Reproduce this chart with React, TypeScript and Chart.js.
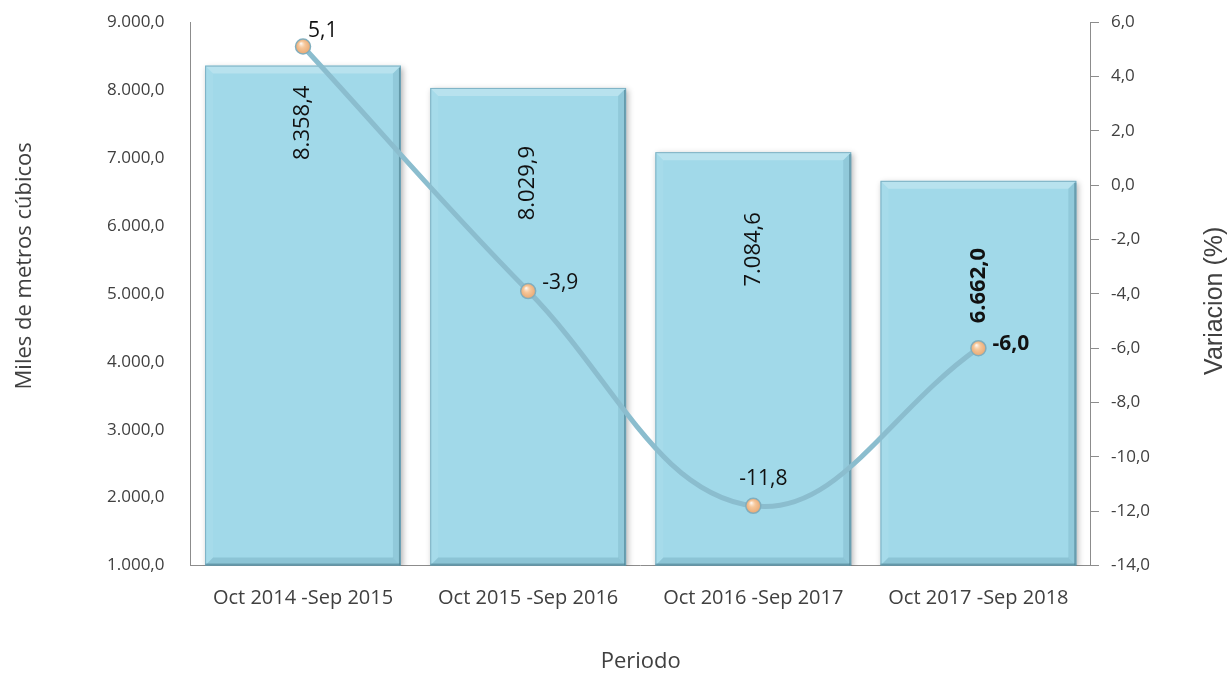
import React, { useEffect, useRef } from "react";
import { Chart, registerables } from "chart.js";

Chart.register(...registerables);

const categories = [
  "Oct 2014 -Sep 2015",
  "Oct 2015 -Sep 2016",
  "Oct 2016 -Sep 2017",
  "Oct 2017 -Sep 2018",
];
const volumes = [8358.4, 8029.9, 7084.6, 6662.0];
const variations = [5.1, -3.9, -11.8, -6.0];
const leftAxisRange = [1000, 9000, 1000];
const rightAxisRange = [-14, 6, 2];
const leftTitle = "Miles de metros cúbicos";
const rightTitle = "Variacion (%)";
const bottomTitle = "Periodo";

const FONT = "'Open Sans', sans-serif";
const TEXT = "#404040";

function fmt(v: number, dec = 1): string {
  const s = Math.abs(v).toFixed(dec);
  const parts = s.split(".");
  const i = parts[0].replace(/\B(?=(\d{3})+(?!\d))/g, ".");
  return (v < 0 ? "-" : "") + i + (parts[1] ? "," + parts[1] : "");
}

// label style settings (not data)
const barLabelOffsets = [20, 58, 60, 67];
const barLabelBold = [false, false, false, true];
const lineLabelStyle = [
  { dx: 5, dy: -15, align: "left", bold: false },
  { dx: 14, dy: -8, align: "left", bold: false },
  { dx: 10, dy: -27, align: "center", bold: false },
  { dx: 14, dy: -4, align: "left", bold: true },
];

const trimVerticalPadding = (scale: any) => {
  scale.paddingTop = 0;
  scale.paddingBottom = 0;
};

const decorPlugin = {
  id: "decor",
  beforeDatasetDraw(chart: any, args: any) {
    if (args.index !== 0) return;
    const ctx = chart.ctx;
    ctx.save();
    ctx.shadowColor = "rgba(0,0,0,0.3)";
    ctx.shadowBlur = 6;
    ctx.shadowOffsetX = 2;
    ctx.shadowOffsetY = 2;
  },
  afterDatasetDraw(chart: any, args: any) {
    if (args.index !== 0) return;
    const ctx = chart.ctx;
    ctx.restore();
    const meta = chart.getDatasetMeta(0);
    meta.data.forEach((bar: any) => {
      const l = bar.x - bar.width / 2;
      const r = bar.x + bar.width / 2;
      const t = bar.y;
      const b = Math.min(bar.base, chart.chartArea.bottom);
      const e = 8;
      ctx.save();
      // top bevel (light)
      ctx.fillStyle = "rgba(255,255,255,0.25)";
      ctx.beginPath();
      ctx.moveTo(l, t); ctx.lineTo(r, t); ctx.lineTo(r - e, t + e); ctx.lineTo(l + e, t + e); ctx.closePath();
      ctx.fill();
      // left bevel
      ctx.fillStyle = "rgba(255,255,255,0.06)";
      ctx.beginPath();
      ctx.moveTo(l, t); ctx.lineTo(l + e, t + e); ctx.lineTo(l + e, b - e); ctx.lineTo(l, b); ctx.closePath();
      ctx.fill();
      // right bevel (dark)
      ctx.fillStyle = "rgba(30,90,115,0.12)";
      ctx.beginPath();
      ctx.moveTo(r, t); ctx.lineTo(r - e, t + e); ctx.lineTo(r - e, b - e); ctx.lineTo(r, b); ctx.closePath();
      ctx.fill();
      // bottom bevel (dark)
      ctx.fillStyle = "rgba(30,90,115,0.16)";
      ctx.beginPath();
      ctx.moveTo(l, b); ctx.lineTo(r, b); ctx.lineTo(r - e, b - e); ctx.lineTo(l + e, b - e); ctx.closePath();
      ctx.fill();
      // dark right / bottom edge
      ctx.fillStyle = "rgba(60,110,125,0.55)";
      ctx.fillRect(r - 2, t + 2, 2, b - t - 2);
      ctx.fillRect(l, b - 2, r - l, 2);
      ctx.strokeStyle = "rgba(110,165,185,0.8)";
      ctx.lineWidth = 1;
      ctx.strokeRect(l + 0.5, t + 0.5, r - l - 1, b - t - 1);
      ctx.restore();
    });
  },
  afterDatasetsDraw(chart: any) {
    const ctx = chart.ctx;
    const area = chart.chartArea;
    // point gloss
    const lm = chart.getDatasetMeta(1);
    lm.data.forEach((p: any) => {
      ctx.save();
      const g = ctx.createRadialGradient(p.x - 2, p.y - 3, 0.5, p.x, p.y, 7.5);
      g.addColorStop(0, "rgba(255,255,255,0.85)");
      g.addColorStop(0.45, "rgba(255,225,190,0.25)");
      g.addColorStop(1, "rgba(200,120,60,0.25)");
      ctx.fillStyle = g;
      ctx.beginPath();
      ctx.arc(p.x, p.y, 7, 0, Math.PI * 2);
      ctx.fill();
      ctx.restore();
    });
    // bar labels
    const bm = chart.getDatasetMeta(0);
    bm.data.forEach((bar: any, i: number) => {
      ctx.save();
      ctx.translate(bar.x, bar.y + barLabelOffsets[i]);
      ctx.rotate(-Math.PI / 2);
      ctx.font = (barLabelBold[i] ? "bold " : "") + "22px " + FONT;
      ctx.fillStyle = "#111";
      ctx.textAlign = "right";
      ctx.textBaseline = "middle";
      ctx.fillText(fmt(volumes[i]), 0, 0);
      ctx.restore();
    });
    // line labels
    lm.data.forEach((p: any, i: number) => {
      const s = lineLabelStyle[i];
      ctx.save();
      ctx.font = (s.bold ? "bold " : "") + "21px " + FONT;
      ctx.fillStyle = "#111";
      ctx.textAlign = s.align;
      ctx.textBaseline = "middle";
      ctx.fillText(fmt(variations[i]), p.x + s.dx, p.y + s.dy);
      ctx.restore();
    });
    // axis titles
    const midY = (area.top + area.bottom) / 2;
    ctx.save();
    ctx.translate(25, midY - 28);
    ctx.rotate(-Math.PI / 2);
    ctx.font = "22px " + FONT;
    ctx.fillStyle = TEXT;
    ctx.textAlign = "center";
    ctx.textBaseline = "middle";
    ctx.fillText(leftTitle, 0, 0);
    ctx.restore();
    ctx.save();
    ctx.translate(area.right + 124, midY + 7);
    ctx.rotate(-Math.PI / 2);
    ctx.font = "25px 'Liberation Sans', Arial, sans-serif";
    ctx.fillStyle = TEXT;
    ctx.textAlign = "center";
    ctx.textBaseline = "middle";
    ctx.fillText(rightTitle, 0, 0);
    ctx.restore();
  },
};

export default function App() {
  const ref = useRef<HTMLCanvasElement | null>(null);
  useEffect(() => {
    if (!ref.current) return;
    const chart = new Chart(ref.current, {
      type: "bar",
      data: {
        labels: categories,
        datasets: [
          {
            type: "bar",
            label: leftTitle,
            data: volumes,
            yAxisID: "y",
            base: leftAxisRange[0],
            backgroundColor: "#A1D9E9",
            borderWidth: 0,
            categoryPercentage: 0.87,
            barPercentage: 1,
            order: 1,
          },
          {
            type: "line",
            label: rightTitle,
            data: variations,
            yAxisID: "y1",
            borderColor: "#8BBDCE",
            borderWidth: 5,
            tension: 0.4,
            pointRadius: 7.5,
            pointBackgroundColor: "#F2BA88",
            pointBorderColor: "#7FAFC0",
            pointBorderWidth: 1.5,
            order: 0,
          },
        ],
      },
      options: {
        animation: false,
        responsive: false,
        layout: { padding: { left: 89, right: 68, top: 22, bottom: -2 } },
        plugins: { legend: { display: false }, tooltip: { enabled: false } },
        scales: {
          x: {
            grid: { display: false },
            border: { display: true, color: "#8c8c8c" },
            ticks: { font: { family: FONT, size: 20 }, color: TEXT, padding: 13 },
            title: {
              display: true,
              text: bottomTitle,
              font: { family: FONT, size: 22 },
              color: TEXT,
              padding: { top: 25, bottom: 0 },
            },
          },
          y: {
            position: "left",
            min: leftAxisRange[0],
            max: leftAxisRange[1],
            afterFit: trimVerticalPadding,
            ticks: {
              stepSize: leftAxisRange[2],
              callback: (v: any) => fmt(Number(v)),
              font: { family: FONT, size: 17 },
              color: TEXT,
              padding: 18,
            },
            grid: { display: false },
            border: { display: true, color: "#8c8c8c" },
          },
          y1: {
            position: "right",
            min: rightAxisRange[0],
            max: rightAxisRange[1],
            afterFit: trimVerticalPadding,
            ticks: {
              stepSize: rightAxisRange[2],
              callback: (v: any) => fmt(Number(v)),
              font: { family: FONT, size: 17 },
              color: TEXT,
              padding: 12,
            },
            grid: { display: true, drawOnChartArea: false, drawTicks: true, tickLength: 8, color: "#8c8c8c" },
            border: { display: true, color: "#8c8c8c" },
          },
        },
      },
      plugins: [decorPlugin],
    } as any);
    return () => chart.destroy();
  }, []);
  return (
    <div style={{ position: "fixed", left: 0, top: 0, width: 1230, height: 673, background: "#fff" }}>
      <canvas ref={ref} width={1230} height={673} style={{ width: 1230, height: 673 }} />
    </div>
  );
}
